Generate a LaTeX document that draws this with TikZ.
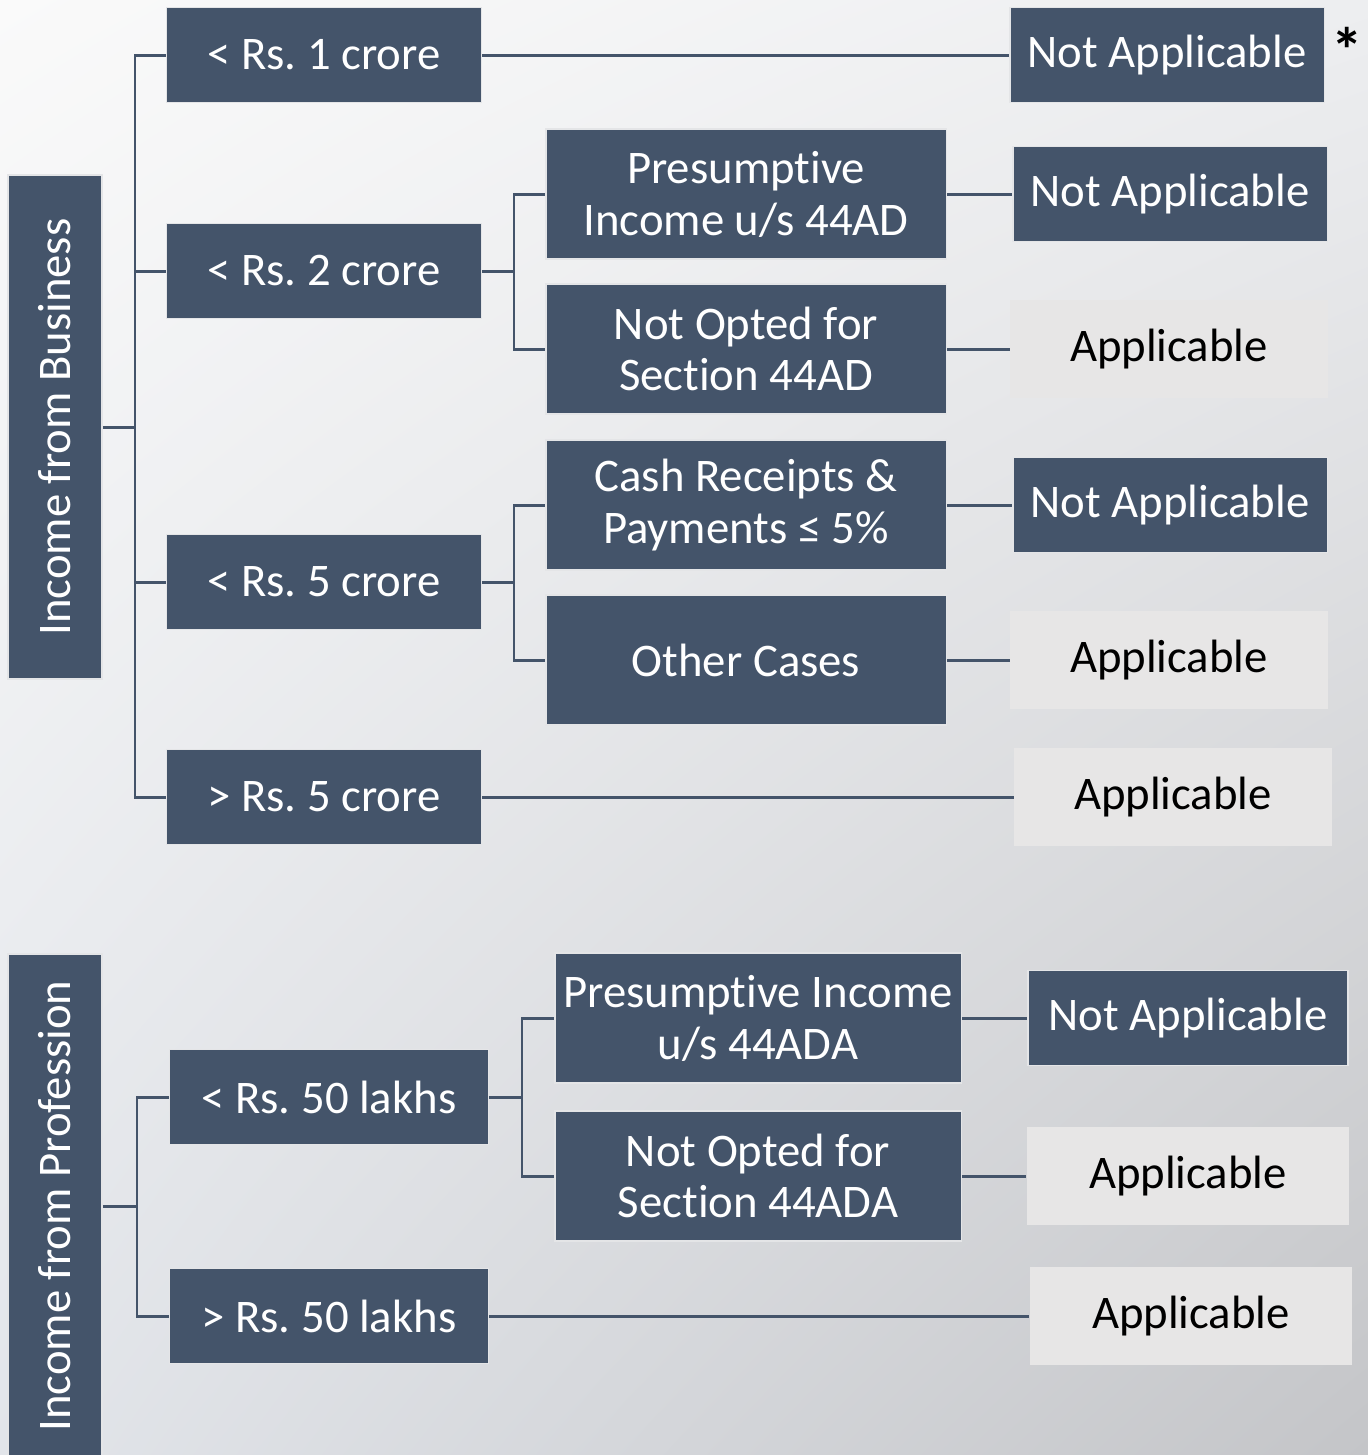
\documentclass[tikz,border=0pt]{standalone}
\usepackage{fontspec}
\setmainfont{Carlito}[Ligatures=NoCommon]
\usetikzlibrary{shadings}
\definecolor{ardesia}{HTML}{44546A}
\definecolor{grigio}{HTML}{E7E6E6}
\definecolor{bordino}{HTML}{E4E5E7}
\definecolor{sfondoA}{HTML}{FAFAFA}
\definecolor{sfondoB}{HTML}{EDEEF0}
\definecolor{sfondoC}{HTML}{E2E5EA}
\definecolor{sfondoD}{HTML}{C4C5C8}
\begin{document}
\begin{tikzpicture}[x=0.02cm, y=-0.02cm, every node/.style={font=\fontsize{26.6}{29.5}\selectfont}]
    % Stili per i nodi
    \tikzstyle{radice}=[rectangle, draw=bordino, line width=1.1pt, fill=ardesia, text=white, rotate=90, minimum width=10.08cm, minimum height=1.88cm, inner sep=0pt]
    \tikzstyle{fascia}=[rectangle, draw=bordino, line width=1.1pt, fill=ardesia, text=white, minimum width=6.3cm, minimum height=1.9cm, inner sep=0pt]
    \tikzstyle{caso}=[rectangle, draw=bordino, line width=1.1pt, fill=ardesia, text=white, align=center, minimum width=8.02cm, minimum height=2.6cm, inner sep=0pt]
    \tikzstyle{esitoNo}=[rectangle, draw=bordino, line width=1.1pt, fill=ardesia, text=white, minimum width=6.3cm, minimum height=1.9cm, inner sep=0pt]
    \tikzstyle{esitoSi}=[rectangle, fill=grigio, text=black, minimum width=6.36cm, minimum height=1.96cm, inner sep=0pt]
    \tikzstyle{linea}=[line width=1.7pt, ardesia]
    % Sfondo
    \shade[upper left=sfondoA, upper right=sfondoB, lower left=sfondoC, lower right=sfondoD] (0,0) rectangle (1368,1455);
    \useasboundingbox (0,0) rectangle (1368,1455);

    % Reddito d'impresa
    \node[radice] (impresa) at (55,427) {Income from Business};
    \coordinate (snodoI) at (135,427);

    \node[fascia] (fascia1) at (324,55) {< Rs.\ 1 crore};
    \node[fascia] (fascia2) at (324,271) {< Rs.\ 2 crore};
    \node[fascia] (fascia5) at (324,582) {< Rs.\ 5 crore};
    \node[fascia] (oltre5) at (324,797) {> Rs.\ 5 crore};

    \draw[linea] (impresa) -- (snodoI);
    \draw[linea] (snodoI) |- (fascia1);
    \draw[linea] (snodoI) |- (fascia2);
    \draw[linea] (snodoI) |- (fascia5);
    \draw[linea] (snodoI) |- (oltre5);

    \node[caso] (pres44AD) at (746,194) {Presumptive\\Income u/s 44AD};
    \node[caso] (nonopt44AD) at (746,349) {Not Opted for\\Section 44AD};
    \node[caso] (contanti) at (746,505) {Cash Receipts \&\\Payments ≤ 5\%};
    \node[caso] (altri) at (746,660) {Other Cases};

    \coordinate (snodo2) at (514,271);
    \coordinate (snodo5) at (514,582);
    \draw[linea] (fascia2) -- (snodo2);
    \draw[linea] (snodo2) |- (pres44AD);
    \draw[linea] (snodo2) |- (nonopt44AD);
    \draw[linea] (fascia5) -- (snodo5);
    \draw[linea] (snodo5) |- (contanti);
    \draw[linea] (snodo5) |- (altri);

    \node[esitoNo] (esito1) at (1167,55) {Not Applicable};
    \node[text=black, font=\fontsize{36}{40}\selectfont\bfseries] (asterisco) at (1347,50) {*};
    \node[esitoNo] (esito2) at (1170,194) {Not Applicable};
    \node[esitoSi] (esito3) at (1169,349) {Applicable};
    \node[esitoNo] (esito4) at (1170,505) {Not Applicable};
    \node[esitoSi] (esito5) at (1169,660) {Applicable};
    \node[esitoSi] (esito6) at (1173,797) {Applicable};

    \draw[linea] (fascia1) -- (esito1);
    \draw[linea] (pres44AD) -- (esito2);
    \draw[linea] (nonopt44AD) -- (esito3);
    \draw[linea] (contanti) -- (esito4);
    \draw[linea] (altri) -- (esito5);
    \draw[linea] (oltre5) -- (esito6);

    % Reddito professionale
    \node[radice] (professione) at (55,1206) {Income from Profession};
    \coordinate (snodoP) at (137,1206);

    \node[fascia, minimum width=6.38cm] (lakhs1) at (329,1097) {< Rs.\ 50 lakhs};
    \node[fascia, minimum width=6.38cm] (lakhs2) at (329,1316) {> Rs.\ 50 lakhs};

    \draw[linea] (professione) -- (snodoP);
    \draw[linea] (snodoP) |- (lakhs1);
    \draw[linea] (snodoP) |- (lakhs2);

    \node[caso, minimum width=8.14cm] (pres44ADA) at (758,1018) {Presumptive Income\\u/s 44ADA};
    \node[caso, minimum width=8.14cm] (nonopt44ADA) at (758,1176) {Not Opted for\\Section 44ADA};

    \coordinate (snodoL) at (522,1097);
    \draw[linea] (lakhs1) -- (snodoL);
    \draw[linea] (snodoL) |- (pres44ADA);
    \draw[linea] (snodoL) |- (nonopt44ADA);

    \node[esitoNo, minimum width=6.4cm] (esito7) at (1188,1018) {Not Applicable};
    \node[esitoSi, minimum width=6.46cm] (esito8) at (1188,1176) {Applicable};
    \node[esitoSi, minimum width=6.46cm] (esito9) at (1191,1316) {Applicable};

    \draw[linea] (pres44ADA) -- (esito7);
    \draw[linea] (nonopt44ADA) -- (esito8);
    \draw[linea] (lakhs2) -- (esito9);
\end{tikzpicture}
\end{document}
